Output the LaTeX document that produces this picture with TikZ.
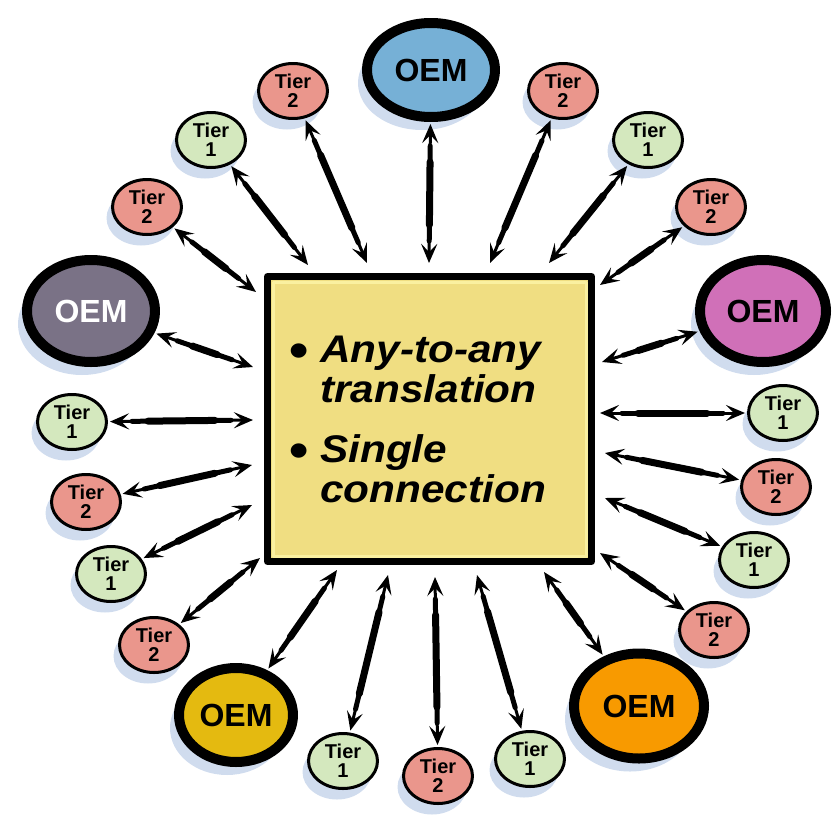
\documentclass[tikz,border=0pt]{standalone}
\usepackage{fontspec}
\setmainfont{Liberation Sans}
\newfontfamily\boxfont[FakeStretch=1.1]{Liberation Sans}
\usetikzlibrary{arrows.meta,shapes.geometric,shadows}

\begin{document}
\begin{tikzpicture}[x = {(1pt,0pt)},
                    y = {(0pt,-1pt)},
                    line join = round]

  \useasboundingbox (0,0) rectangle (832,816);


  % COLORS
  \definecolor{tiercolor_1}{RGB}{212,232,190}
  \definecolor{tiercolor_2}{RGB}{234,150,140}
  \definecolor{shadowcolor_q}{RGB}{208,220,238}
  \definecolor{boxcolor_q}{RGB}{240,222,130}
  \definecolor{boxrim_q}{RGB}{250,240,160}
  \definecolor{oemcolor_t}{RGB}{118,176,214}
  \definecolor{oemcolor_l}{RGB}{122,114,134}
  \definecolor{oemcolor_r}{RGB}{208,112,184}
  \definecolor{oemcolor_bl}{RGB}{228,186,16}
  \definecolor{oemcolor_br}{RGB}{248,154,0}


  % NODES STYLE
  \tikzstyle{tierstyle} = [ellipse, draw=black, line width=3pt, minimum width=69pt, minimum height=55pt, inner sep=0pt, align=center, font=\bfseries\fontsize{20}{19}\selectfont, drop shadow={shadow xshift=-6pt, shadow yshift=-11pt, fill=shadowcolor_q, opacity=1}]
  \tikzstyle{tierstyle_1} = [tierstyle, fill=tiercolor_1]
  \tikzstyle{tierstyle_2} = [tierstyle, fill=tiercolor_2]
  \tikzstyle{oemstyle} = [ellipse, draw=black, line width=10pt, inner sep=0pt, font=\bfseries\fontsize{32}{32}\selectfont, drop shadow={shadow xshift=-9pt, shadow yshift=-13pt, fill=shadowcolor_q, opacity=1}]
  \tikzstyle{boxstyle_q} = [rectangle, draw=black, fill=boxcolor_q, line width=7pt, minimum width=324pt, minimum height=285pt]
  \tikzstyle{arrowstyle_q} = [{Stealth[length=19pt,width=16pt,inset=8pt]}-{Stealth[length=19pt,width=16pt,inset=8pt]}, line width=3pt, shorten <=2pt,
                              postaction={draw, -, line width=5pt, line cap=round, shorten <=24pt, shorten >=22pt},
                              postaction={draw, -, line width=7pt, line cap=round, shorten <=40pt, shorten >=38pt}]


  % BOX
  \node[boxstyle_q] (box) at (429.5,419) {};
  \draw[boxrim_q, line width=3pt] ([shift={(9,9)}]box.north west) rectangle ([shift={(-9,-9)}]box.south east);
  \node[anchor=base west, inner sep=0pt, font=\boxfont\bfseries\itshape\fontsize{38.5}{40}\selectfont] (txt) at (289,362)
    {\begin{tabular}[t]{@{}l@{}}
     \makebox[31pt][l]{\raisebox{-5pt}{\upshape\fontsize{50}{40}\selectfont\textbullet}}Any-to-any\\
     \hspace*{31pt}translation\\[20pt]
     \makebox[31pt][l]{\raisebox{-5pt}{\upshape\fontsize{50}{40}\selectfont\textbullet}}Single\\
     \hspace*{31pt}connection
     \end{tabular}};


  % OEM NODES
  \node[oemstyle, fill=oemcolor_t, minimum width=128pt, minimum height=94pt] (oem_t) at (431,70) {OEM};
  \node[oemstyle, fill=oemcolor_l, minimum width=128pt, minimum height=102pt, text=white] (oem_l) at (91,311) {OEM};
  \node[oemstyle, fill=oemcolor_r, minimum width=126pt, minimum height=102pt] (oem_r) at (763,311) {OEM};
  \node[oemstyle, fill=oemcolor_bl, minimum width=114pt, minimum height=94pt] (oem_bl) at (236,715) {OEM};
  \node[oemstyle, fill=oemcolor_br, minimum width=130pt, minimum height=105pt] (oem_br) at (639,706) {OEM};


  % TIER NODES
  \node[tierstyle_2] (tier_0) at (293,91) {Tier\\2};
  \node[tierstyle_1] (tier_1) at (211,140) {Tier\\1};
  \node[tierstyle_2] (tier_2) at (147,207) {Tier\\2};
  \node[tierstyle_2] (tier_3) at (563,91) {Tier\\2};
  \node[tierstyle_1] (tier_4) at (648,140) {Tier\\1};
  \node[tierstyle_2] (tier_5) at (711,207) {Tier\\2};
  \node[tierstyle_1] (tier_6) at (72,422) {Tier\\1};
  \node[tierstyle_2] (tier_7) at (86,502) {Tier\\2};
  \node[tierstyle_1] (tier_8) at (111,574) {Tier\\1};
  \node[tierstyle_2] (tier_9) at (154,645) {Tier\\2};
  \node[tierstyle_1] (tier_10) at (343,761) {Tier\\1};
  \node[tierstyle_2] (tier_11) at (438,776) {Tier\\2};
  \node[tierstyle_1] (tier_12) at (530,759) {Tier\\1};
  \node[tierstyle_1] (tier_13) at (783,413) {Tier\\1};
  \node[tierstyle_2] (tier_14) at (776,487) {Tier\\2};
  \node[tierstyle_1] (tier_15) at (754,560) {Tier\\1};
  \node[tierstyle_2] (tier_16) at (714,630) {Tier\\2};


  % DEF POINTS
  \coordinate (p_t) at (429,263);
  \coordinate (p_l) at (253,367);
  \coordinate (p_r) at (602,362);
  \coordinate (p_bl) at (337,570);
  \coordinate (p_br) at (544,572);
  \coordinate (p0) at (367,263);
  \coordinate (p1) at (308,265);
  \coordinate (p2) at (256,292);
  \coordinate (p3) at (490,263);
  \coordinate (p4) at (549,263);
  \coordinate (p5) at (600,285);
  \coordinate (p6) at (253,420);
  \coordinate (p7) at (252,465);
  \coordinate (p8) at (252,505);
  \coordinate (p9) at (260,558);
  \coordinate (p10) at (388,575);
  \coordinate (p11) at (435,577);
  \coordinate (p12) at (477,575);
  \coordinate (p13) at (600,413);
  \coordinate (p14) at (605,453);
  \coordinate (p15) at (605,498);
  \coordinate (p16) at (600,553);


  % ARROWS
  \draw[arrowstyle_q] (oem_t) -- (p_t);
  \draw[arrowstyle_q] (oem_l) -- (p_l);
  \draw[arrowstyle_q] (oem_r) -- (p_r);
  \draw[arrowstyle_q] (oem_bl) -- (p_bl);
  \draw[arrowstyle_q] (oem_br) -- (p_br);
  \draw[arrowstyle_q] (tier_0) -- (p0);
  \draw[arrowstyle_q] (tier_1) -- (p1);
  \draw[arrowstyle_q] (tier_2) -- (p2);
  \draw[arrowstyle_q] (tier_3) -- (p3);
  \draw[arrowstyle_q] (tier_4) -- (p4);
  \draw[arrowstyle_q] (tier_5) -- (p5);
  \draw[arrowstyle_q] (tier_6) -- (p6);
  \draw[arrowstyle_q] (tier_7) -- (p7);
  \draw[arrowstyle_q] (tier_8) -- (p8);
  \draw[arrowstyle_q] (tier_9) -- (p9);
  \draw[arrowstyle_q] (tier_10) -- (p10);
  \draw[arrowstyle_q] (tier_11) -- (p11);
  \draw[arrowstyle_q] (tier_12) -- (p12);
  \draw[arrowstyle_q] (tier_13) -- (p13);
  \draw[arrowstyle_q] (tier_14) -- (p14);
  \draw[arrowstyle_q] (tier_15) -- (p15);
  \draw[arrowstyle_q] (tier_16) -- (p16);

\end{tikzpicture}
\end{document}
